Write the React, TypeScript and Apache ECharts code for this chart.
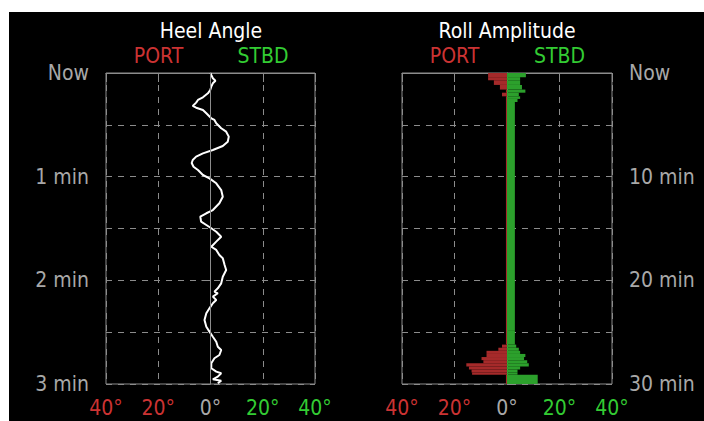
import React, { useEffect, useRef } from "react";
import * as echarts from "echarts";

// ---- Data ----
// Heel angle trace: time (minutes ago) and angle (deg, negative = PORT)
const heelTimes = [
  0.0, 0.019, 0.051, 0.074, 0.099, 0.132, 0.164, 0.196, 0.234, 0.26, 0.286, 0.318, 0.335, 0.357,
  0.389, 0.437, 0.453, 0.485, 0.533, 0.566, 0.614, 0.663, 0.704, 0.743, 0.775, 0.807, 0.839,
  0.868, 0.904, 0.936, 0.984, 1.016, 1.064, 1.129, 1.193, 1.257, 1.322, 1.353, 1.386, 1.434,
  1.466, 1.498, 1.531, 1.579, 1.627, 1.676, 1.707, 1.756, 1.787, 1.852, 1.9, 1.965, 2.029,
  2.077, 2.109, 2.125, 2.157, 2.189, 2.221, 2.27, 2.318, 2.383, 2.447, 2.495, 2.544, 2.592,
  2.64, 2.672, 2.72, 2.752, 2.8, 2.848, 2.881, 2.897, 2.929, 2.955, 2.968, 2.993,
];
const heelAngles = [
  0.0, 0.3, 0.9, 1.9, 0.9, 0.3, -0.1, -1.0, -2.9, -4.8, -5.5, -6.8, -5.5, -2.9,
  -1.6, 0.3, 1.5, 2.2, 4.1, 6.0, 7.0, 6.6, 4.7, 0.9, -2.9, -5.5, -6.8,
  -7.2, -6.5, -4.8, -2.9, -0.4, 2.2, 4.1, 4.7, 3.4, 0.9, -1.6, -3.9, -3.6,
  -1.6, 0.3, 2.2, 4.1, 2.2, 0.3, 2.2, 3.4, 4.7, 5.4, 6.0, 4.7, 4.1,
  2.8, 1.5, 2.8, 0.9, 2.2, 0.9, -0.4, -1.6, -2.3, -1.6, -0.4, 0.9, 2.2,
  2.8, 4.1, 3.4, 1.5, 0.3, 0.3, 2.2, 4.1, 2.8, 0.9, 4.1, 2.8,
];

// Roll amplitude buckets: edges in minutes ago, PORT and STBD amplitude (deg)
const rollEdges = [
  0, 0.4, 0.7, 1.15, 1.6, 1.9, 2.25, 2.5, 2.8, 3.0, 24.8, 26.2, 26.5, 26.8, 27.1, 27.4,
  27.7, 28.0, 28.3, 28.6, 28.9, 29.1, 30,
];
const rollPort = [
  7.2, 7.2, 5.0, 2.7, 0.4, 1.9, 0.4, 0.4, 0.4, 0.4, 0.4, 1.9, 3.3, 7.8, 7.8,
  9.7, 9.0, 15.5, 14.5, 13.5, 13.3, 0.4,
];
const rollStbd = [
  7.2, 5.0, 5.0, 5.7, 7.0, 4.5, 5.0, 4.0, 3.0, 3.0, 3.0, 3.5, 4.5, 5.0, 7.0,
  6.5, 7.7, 8.3, 5.0, 4.0, 4.0, 11.7,
];

const degTicks = [-40, -20, 0, 20, 40];

const FONT = "'Liberation Sans Narrow', 'DejaVu Sans Condensed', sans-serif";
const FS = 21;
const GRAY_TXT = "#a8a8a8";
const LINE = "#8c8c8c";
const RED_TXT = "#cc3333";
const GREEN_TXT = "#33cc33";
const RED_BAR = "#a52a2a";
const GREEN_BAR = "#2ca02c";

function degColor(v: any) {
  const n = Number(v);
  if (n < 0) return RED_TXT;
  if (n > 0) return GREEN_TXT;
  return GRAY_TXT;
}

function makeXAxis(gridIndex: number) {
  return {
    type: "value",
    gridIndex,
    min: degTicks[0],
    max: degTicks[degTicks.length - 1],
    interval: 20,
    axisLine: { show: true, lineStyle: { color: LINE, width: 1 } },
    axisTick: { show: true, length: 9, lineStyle: { color: LINE } },
    axisLabel: {
      margin: 13,
      fontFamily: FONT,
      fontSize: FS,
      color: (v: any) => degColor(v),
      formatter: (v: number) => `${Math.abs(v)}°`,
    },
    splitLine: { show: true, lineStyle: { color: LINE, type: [6, 6] } },
  };
}

export default function App() {
  const ref = useRef<HTMLDivElement>(null);
  useEffect(() => {
    if (!ref.current) return;
    const chart = echarts.init(ref.current, null, { renderer: "svg" });
    const heelData = heelTimes.map((t, i) => [heelAngles[i], t]);
    const rollData = rollPort.map((p, i) => [rollEdges[i], rollEdges[i + 1], p, rollStbd[i]]);

    const option: any = {
      animation: false,
      backgroundColor: "#000",
      textStyle: { fontFamily: FONT },
      grid: [
        { left: 97, top: 61, width: 209, height: 311, show: true, borderColor: LINE, borderWidth: 1 },
        { left: 393, top: 61, width: 210, height: 311, show: true, borderColor: LINE, borderWidth: 1 },
      ],
      xAxis: [makeXAxis(0), makeXAxis(1)],
      yAxis: [
        {
          type: "value",
          gridIndex: 0,
          inverse: true,
          min: 0,
          max: 3,
          interval: 1,
          axisLine: { show: true, lineStyle: { color: LINE } },
          axisTick: { show: true, length: 9, lineStyle: { color: LINE } },
          axisLabel: {
            margin: 17,
            fontFamily: FONT,
            fontSize: FS,
            color: GRAY_TXT,
            formatter: (v: number) => (v === 0 ? "Now" : `${v} min`),
          },
          splitLine: { show: true, lineStyle: { color: LINE, type: [6, 6] } },
          minorTick: { show: false, splitNumber: 2 },
          minorSplitLine: { show: true, lineStyle: { color: LINE, type: [6, 6] } },
        },
        {
          type: "value",
          gridIndex: 1,
          position: "right",
          inverse: true,
          min: 0,
          max: 30,
          interval: 10,
          axisLine: { show: true, lineStyle: { color: LINE } },
          axisTick: { show: true, length: 9, lineStyle: { color: LINE } },
          axisLabel: {
            margin: 17,
            fontFamily: FONT,
            fontSize: FS,
            color: GRAY_TXT,
            formatter: (v: number) => (v === 0 ? "Now" : `${v} min`),
          },
          splitLine: { show: true, lineStyle: { color: LINE, type: [6, 6] } },
          minorTick: { show: false, splitNumber: 2 },
          minorSplitLine: { show: true, lineStyle: { color: LINE, type: [6, 6] } },
        },
      ],
      graphic: [
        { type: "text", x: 202, y: 19, style: { text: "Heel Angle", fill: "#fff", font: `${FS}px ${FONT}`, align: "center", verticalAlign: "middle" } },
        { type: "text", x: 149.5, y: 44, style: { text: "PORT", fill: RED_TXT, font: `${FS}px ${FONT}`, align: "center", verticalAlign: "middle" } },
        { type: "text", x: 254, y: 44, style: { text: "STBD", fill: GREEN_TXT, font: `${FS}px ${FONT}`, align: "center", verticalAlign: "middle" } },
        { type: "text", x: 498, y: 19, style: { text: "Roll Amplitude", fill: "#fff", font: `${FS}px ${FONT}`, align: "center", verticalAlign: "middle" } },
        { type: "text", x: 445.5, y: 44, style: { text: "PORT", fill: RED_TXT, font: `${FS}px ${FONT}`, align: "center", verticalAlign: "middle" } },
        { type: "text", x: 550.5, y: 44, style: { text: "STBD", fill: GREEN_TXT, font: `${FS}px ${FONT}`, align: "center", verticalAlign: "middle" } },
      ],
      series: [
        {
          type: "line",
          xAxisIndex: 0,
          yAxisIndex: 0,
          data: heelData,
          showSymbol: false,
          symbol: "none",
          lineStyle: { color: "#ffffff", width: 2 },
          markLine: {
            silent: true,
            symbol: "none",
            label: { show: false },
            lineStyle: { color: LINE, type: "solid", width: 1 },
            data: [{ xAxis: 0 }],
          },
          z: 3,
        },
        {
          type: "custom",
          xAxisIndex: 1,
          yAxisIndex: 1,
          data: rollData,
          encode: { x: [2, 3], y: [0, 1] },
          renderItem: (params: any, api: any) => {
            const t0 = api.value(0);
            const t1 = api.value(1);
            const p = api.value(2);
            const s = api.value(3);
            const a = api.coord([-p, t0]);
            const b = api.coord([0, t1]);
            const c = api.coord([s, t0]);
            return {
              type: "group",
              children: [
                { type: "rect", shape: { x: a[0], y: a[1], width: b[0] - a[0], height: b[1] - a[1] }, style: { fill: RED_BAR } },
                { type: "rect", shape: { x: b[0], y: a[1], width: c[0] - b[0], height: b[1] - a[1] }, style: { fill: GREEN_BAR } },
              ],
            };
          },
          z: 3,
        },
      ],
    };
    chart.setOption(option);
    return () => chart.dispose();
  }, []);

  return (
    <div style={{ position: "fixed", left: 0, top: 0, width: 704, height: 421, background: "#fff" }}>
      <div
        ref={ref}
        style={{ position: "absolute", left: 9, top: 12, width: 695, height: 409, background: "#000" }}
      />
    </div>
  );
}
